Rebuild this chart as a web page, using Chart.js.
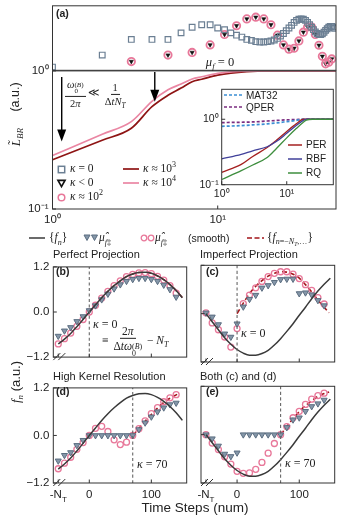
<!DOCTYPE html>
<html>
<head>
<meta charset="utf-8">
<title>Kernel projection figure</title>
<script src="https://cdn.jsdelivr.net/npm/chart.js@4.4.1/dist/chart.umd.min.js"></script>
<style>
  html, body { margin: 0; padding: 0; background: #fff; }
  #fig { position: relative; width: 343px; height: 519px; overflow: hidden; background: #fff; }
  #plots { position: absolute; left: 0; top: 0; width: 343px; height: 519px; }
  #plots canvas { position: absolute; }
  .t { position: absolute; white-space: nowrap; font-family: "Liberation Sans", Arial, sans-serif; color: #222; line-height: 1; }
  .vc { transform: translateY(-50%); }
  .cc { transform: translate(-50%, -50%); }
  .rot { transform: translate(-50%, -50%) rotate(-90deg); }
  .m { font-family: "Liberation Serif", "DejaVu Serif", serif; }
  .m i, i.m { font-style: italic; }
  .b { font-weight: bold; }
  sub, sup { font-size: 70%; line-height: 0; }
  .fr { display: inline-flex; flex-direction: column; align-items: center; vertical-align: middle; line-height: 1.05; }
  .fr > span:first-child { border-bottom: 1px solid #222; padding: 0 2px 1px; }
  .fr > span:last-child { padding: 1px 2px 0; }
  .ss { display: inline-flex; flex-direction: column; font-size: 68%; line-height: 0.95; vertical-align: 0.2em; }
  svg.sym { position: absolute; overflow: visible; }
</style>
</head>
<body>
<div id="fig">
  <div id="plots"></div>

  <!-- panel (a) texts -->
  <div class="t b vc" style="left:56px;top:13px;font-size:10.5px">(a)</div>
  <div class="t m cc" style="left:220px;top:62px;font-size:12.5px"><i>μ</i><sub><i>f</i></sub> = 0</div>
  <div class="t m vc" style="left:65px;top:94px;font-size:10.5px">
    <span class="fr"><span><i>ω</i><span class="ss"><span>(<i>B</i>)</span><span>0</span></span></span><span>2<i>π</i></span></span>
    ≪
    <span class="fr"><span>1</span><span>Δ<i>tN</i><sub><i>T</i></sub></span></span>
  </div>

  <svg class="sym" style="left:57px;top:165px" width="9" height="9"><rect x="1.3" y="1.3" width="6.4" height="6.4" fill="none" stroke="#6b7f93" stroke-width="1.5"/></svg>
  <svg class="sym" style="left:57px;top:179px" width="9" height="9"><polygon points="1,1.4 8,1.4 4.5,7.6" fill="none" stroke="#111" stroke-width="1.7"/></svg>
  <svg class="sym" style="left:57px;top:193px" width="9" height="9"><circle cx="4.5" cy="4.5" r="3.3" fill="none" stroke="#e8789a" stroke-width="1.5"/></svg>
  <div class="t m vc" style="left:70px;top:169px;font-size:11.5px"><i>κ</i> = 0</div>
  <div class="t m vc" style="left:70px;top:183px;font-size:11.5px"><i>κ</i> &lt; 0</div>
  <div class="t m vc" style="left:70px;top:197px;font-size:11.5px"><i>κ</i> ≈ 10<sup>2</sup></div>
  <svg class="sym" style="left:123px;top:166px" width="16" height="6"><line x1="0" y1="3" x2="16" y2="3" stroke="#8e1414" stroke-width="1.7"/></svg>
  <svg class="sym" style="left:123px;top:180px" width="16" height="6"><line x1="0" y1="3" x2="16" y2="3" stroke="#ea86a3" stroke-width="1.7"/></svg>
  <div class="t m vc" style="left:143px;top:169px;font-size:11.5px"><i>κ</i> ≈ 10<sup>3</sup></div>
  <div class="t m vc" style="left:143px;top:183px;font-size:11.5px"><i>κ</i> ≈ 10<sup>4</sup></div>

  <!-- inset legend -->
  <svg class="sym" style="left:224px;top:92px" width="18" height="6"><line x1="0" y1="3" x2="18" y2="3" stroke="#3b8fd4" stroke-width="1.7" stroke-dasharray="3,2"/></svg>
  <svg class="sym" style="left:224px;top:104px" width="18" height="6"><line x1="0" y1="3" x2="18" y2="3" stroke="#7b2c80" stroke-width="1.7" stroke-dasharray="3,2"/></svg>
  <div class="t vc" style="left:246px;top:95.5px;font-size:10px">MAT32</div>
  <div class="t vc" style="left:246px;top:107.5px;font-size:10px">QPER</div>
  <svg class="sym" style="left:288px;top:142px" width="14" height="6"><line x1="0" y1="3" x2="14" y2="3" stroke="#a52020" stroke-width="1.5"/></svg>
  <svg class="sym" style="left:288px;top:156px" width="14" height="6"><line x1="0" y1="3" x2="14" y2="3" stroke="#40409a" stroke-width="1.5"/></svg>
  <svg class="sym" style="left:288px;top:170px" width="14" height="6"><line x1="0" y1="3" x2="14" y2="3" stroke="#3e8e3e" stroke-width="1.5"/></svg>
  <div class="t vc" style="left:306px;top:145px;font-size:10px">PER</div>
  <div class="t vc" style="left:306px;top:159px;font-size:10px">RBF</div>
  <div class="t vc" style="left:306px;top:173px;font-size:10px">RQ</div>

  <div class="t m rot" style="left:15px;top:137px;font-size:13px"><i>L̃</i><sub><i>BR</i></sub></div>
  <div class="t rot" style="left:15px;top:97px;font-size:12.5px">(a.u.)</div>

  <!-- shared legend for (b)-(e) -->
  <svg class="sym" style="left:29px;top:235px" width="16" height="6"><line x1="0" y1="3" x2="16" y2="3" stroke="#3a3a3a" stroke-width="1.5"/></svg>
  <div class="t m vc" style="left:49px;top:238px;font-size:11.5px">{<i>f</i><sub><i>n</i></sub>}</div>
  <svg class="sym" style="left:83px;top:234px" width="16" height="8"><polygon points="1,1 7,1 4,6.5" fill="#8597a9" stroke="#5b6d80" stroke-width="1"/><polygon points="8.5,1 14.5,1 11.5,6.5" fill="#8597a9" stroke="#5b6d80" stroke-width="1"/></svg>
  <div class="t m vc" style="left:99px;top:238px;font-size:11.5px"><i>μ̂</i><sub><i>f</i>‡</sub></div>
  <svg class="sym" style="left:140px;top:234px" width="16" height="8"><circle cx="4" cy="4" r="2.8" fill="none" stroke="#e8789a" stroke-width="1.3"/><circle cx="11" cy="4" r="2.8" fill="none" stroke="#e8789a" stroke-width="1.3"/></svg>
  <div class="t m vc" style="left:155px;top:238px;font-size:11.5px"><i>μ̂</i><sub><i>f</i>‡</sub></div>
  <div class="t vc" style="left:188px;top:238px;font-size:10.5px">(smooth)</div>
  <svg class="sym" style="left:247px;top:235px" width="17" height="6"><line x1="0" y1="3" x2="17" y2="3" stroke="#a3151a" stroke-width="1.6" stroke-dasharray="5,2.5"/></svg>
  <div class="t m vc" style="left:267px;top:238px;font-size:11.5px">{<i>f</i><sub><i>n</i>=−<i>N</i><sub><i>T</i></sub>,…</sub>}</div>

  <!-- panel titles and labels -->
  <div class="t vc" style="left:53px;top:254px;font-size:11px">Perfect Projection</div>
  <div class="t vc" style="left:200px;top:254px;font-size:11px">Imperfect Projection</div>
  <div class="t vc" style="left:53px;top:376px;font-size:11px">High Kernel Resolution</div>
  <div class="t vc" style="left:200px;top:376px;font-size:11px">Both (c) and (d)</div>
  <div class="t b vc" style="left:56px;top:271px;font-size:10.5px">(b)</div>
  <div class="t b vc" style="left:206px;top:271px;font-size:10.5px">(c)</div>
  <div class="t b vc" style="left:56px;top:391px;font-size:10.5px">(d)</div>
  <div class="t b vc" style="left:206px;top:391px;font-size:10.5px">(e)</div>

  <div class="t m vc" style="left:93px;top:324px;font-size:12px"><i>κ</i> = 0</div>
  <div class="t m vc" style="left:102px;top:341px;font-size:11.5px">≡ <span class="fr"><span>2<i>π</i></span><span>Δ<i>tω</i><span class="ss"><span>(<i>B</i>)</span><span>0</span></span></span></span> − <i>N</i><sub><i>T</i></sub></div>
  <div class="t m vc" style="left:241px;top:333px;font-size:12px"><i>κ</i> = 0</div>
  <div class="t m vc" style="left:137px;top:464px;font-size:12px"><i>κ</i> = 70</div>
  <div class="t m vc" style="left:285px;top:463px;font-size:12px"><i>κ</i> = 70</div>

  <div class="t rot" style="left:15px;top:382px;font-size:13px"><span class="m"><i>f</i><sub><i>n</i></sub></span> (a.u.)</div>
  <div class="t cc" style="left:195px;top:508px;font-size:13.5px">Time Steps (num)</div>
</div>

<script>
// ---------- panel (a), upper strip (marker heights, arbitrary units: 0 = strip bottom, 100 = strip top)
const stripSqX = [1,2,3,4,5,6,7,8,9,10,11,12,13,14,15,16,17,18,19,20,21,22,23,24,25,26,27,28,29,30,
  31,32,33,34,35,36,37,38,39,40,41,42,43,44,45,46,47,48,49,50,51];
const stripSqY = [5.0,23.6,47.9,47.9,47.9,58.0,66.7,70.6,70.6,65.6,63.0,58.0,54.5,51.5,47.9,46.4,44.4,43.9,43.9,44.4,
  45.5,47.0,49.4,53.0,57.0,61.5,65.6,69.7,74.2,77.3,79.2,79.7,79.2,77.3,74.2,70.6,66.7,63.0,59.5,57.0,
  55.5,55.5,56.5,59.0,62.0,64.5,66.7,68.2,68.2,67.0,65.0];
const stripTriX = [1,3,5,7,9,11,13,15,17,19,21,23,25,27,29,31,33,35,37,39,41,43,45,47,49];
const stripTriY = [-11.2,13.6,23.6,27.7,39.4,55.5,69.1,79.7,82.3,79.7,70.6,54.5,39.4,32.7,34.2,45.5,59.1,67.1,67.1,55.5,
  38.8,21.7,10.0,12.6,17.6];

// ---------- panel (a), main log-log curves
const curveX   = [1, 2, 3, 4, 5, 6, 7, 8, 10, 12, 15, 20, 30, 52];
const kappa1e3 = [0.227,0.315,0.384,0.551,0.666,0.751,0.835,0.870,0.931,0.964,0.988,1.0,1.0,1.0];
const kappa1e4 = [0.244,0.348,0.429,0.602,0.730,0.804,0.874,0.907,0.959,0.984,0.997,1.0,1.0,1.0];

// ---------- inset
const insetX = [1, 2, 3, 5, 7, 10, 14, 18, 20, 25, 52];
const insetMAT32 = [0.78,0.80,0.82,0.85,0.88,0.92,0.96,1.0,1.0,1.0,1.0];
const insetQPER  = [0.89,0.90,0.91,0.94,0.96,0.98,0.99,1.0,1.0,1.0,1.0];
const insetPER   = [0.154,0.204,0.27,0.37,0.48,0.65,0.85,1.0,1.0,1.0,1.0];
const insetRBF   = [0.248,0.29,0.33,0.38,0.46,0.61,0.80,0.96,1.0,1.0,1.0];
const insetRQ    = [0.12,0.164,0.20,0.26,0.36,0.52,0.72,0.90,0.97,1.0,1.0];

// ---------- panels (b)-(e)
const nSteps    = [-50,-40,-30,-20,-10,0,10,20,30,40,50,60,70,80,90,100,110,120,130,140,150];
const markSteps = [-50,-40,-30,-20,-10,0,10,20,30,40,50,60,70,80,90,100,110,120,130,140];
const fnBD = [-0.85,-0.72,-0.57,-0.39,-0.20,0.00,0.19,0.38,0.55,0.70,0.83,0.94,1.01,1.05,1.06,1.03,0.96,0.86,0.73,0.57,0.38];
const fnCE = [0.00,-0.20,-0.40,-0.60,-0.76,-0.89,-0.98,-1.03,-1.03,-0.99,-0.91,-0.78,-0.62,-0.44,-0.25,-0.04,0.16,0.37,0.56,0.73,0.88];

const redBX = [0,10,20,30,40,50,60,70,80,90,100,110,120,130,140,150];
const redBY = [0.00,0.19,0.38,0.55,0.70,0.83,0.94,1.01,1.05,1.06,1.03,0.96,0.86,0.73,0.57,0.38];
const redCX = [0,10,20,30,40,50,60,70,80,90,100,110,120,130,140,148];
const redCY = [0.00,0.26,0.50,0.68,0.82,0.93,1.00,1.04,1.03,0.98,0.88,0.72,0.54,0.34,0.16,0.02];
const redDX = [70,80,90,100,110,120,130,142];
const redDY = [0.00,0.18,0.36,0.53,0.69,0.83,0.94,1.04];
const redEX = [70,80,90,100,110,120,130,140,148];
const redEY = [0.00,0.20,0.40,0.57,0.72,0.84,0.95,1.02,1.06];

const circB = [-0.85,-0.71,-0.56,-0.38,-0.20,0.00,0.18,0.37,0.55,0.70,0.83,0.94,1.00,1.04,1.05,1.02,0.95,0.85,0.70,0.50];
const circC = [0.02,-0.23,-0.40,-0.58,-0.83,-0.37,0.25,0.46,0.64,0.80,0.92,1.00,1.04,1.04,0.98,0.87,0.72,0.58,0.40,0.24];
const circD = [-0.84,-0.70,-0.55,-0.35,-0.18,0.00,0.18,0.23,0.10,-0.11,-0.23,-0.17,0.00,0.17,0.37,0.55,0.70,0.85,0.95,1.03];
const circE = [0.00,-0.21,-0.37,-0.55,-0.73,-0.91,-0.96,-0.95,-0.86,-0.69,-0.46,-0.22,0.00,0.20,0.42,0.58,0.75,0.88,0.97,1.03];

const triB = [-0.64,-0.50,-0.41,-0.25,-0.12,0.04,0.17,0.33,0.48,0.62,0.73,0.82,0.87,0.90,0.90,0.87,0.82,0.72,0.60,0.40];
const triC = [0.02,-0.08,-0.27,-0.50,-0.58,-0.25,0.17,0.36,0.46,0.64,0.70,0.78,0.85,0.86,0.86,0.50,0.52,0.47,0.33,0.20];
const triD = [-0.64,-0.50,-0.43,-0.25,-0.12,0.00,0.00,0.00,0.00,0.00,0.00,0.00,0.00,0.15,0.32,0.47,0.60,0.70,0.78,0.82];
const triE = [0.00,-0.10,-0.28,-0.48,-0.54,-0.45,0.00,0.00,0.00,0.00,0.00,0.00,0.00,0.18,0.37,0.42,0.58,0.70,0.77,0.86];

const kappaB = 0, kappaC = 0, kappaD = 70, kappaE = 70;

// tick labels
const logTicksX = [1, 10], logLabelsX = ['10⁰', '10¹'];
const logTicksY = [0.1, 1], logLabelsY = ['10⁻¹', '10⁰'];
const fTicks = [-1.2, 0, 1.2], fLabels = ['−1.2', '0.0', '1.2'];
const nTicks = [-50, 0, 100], nLabels = ['', '0', '100'];

// colours
const SQ = '#6b7f93', PINK = '#e8789a', TRI_FILL = '#8597a9', TRI_EDGE = '#5b6d80';
const BLACK_LINE = '#3a3a3a', RED_DASH = '#a3151a';
const FONT = '"Liberation Sans", Arial, sans-serif';

const pts = (xs, ys) => xs.map((x, i) => ({x, y: ys[i]}));

const framePlugin = {
  id: 'frame',
  beforeDraw(chart, args, o) {
    if (!o.fill) return;
    const {ctx, chartArea: a} = chart;
    ctx.save();
    ctx.fillStyle = o.fill;
    ctx.fillRect(a.left, a.top, a.right - a.left, a.bottom - a.top);
    ctx.restore();
  },
  afterDraw(chart, args, o) {
    const {ctx, chartArea: a, scales} = chart;
    ctx.save();
    ctx.strokeStyle = '#333';
    ctx.lineWidth = 1;
    ctx.strokeRect(a.left, a.top, a.right - a.left, a.bottom - a.top);
    ctx.beginPath();
    (o.xTicks || []).forEach(v => {
      const px = scales.x.getPixelForValue(v);
      ctx.moveTo(px, a.bottom); ctx.lineTo(px, a.bottom - 3.5);
    });
    (o.yTicks || []).forEach(v => {
      const py = scales.y.getPixelForValue(v);
      ctx.moveTo(a.left, py); ctx.lineTo(a.left + 3.5, py);
    });
    ctx.stroke();
    if (o.breakMark) {
      ctx.beginPath();
      [0, 5].forEach(k => {
        ctx.moveTo(a.left + k, a.bottom + 3);
        ctx.lineTo(a.left + k + 7, a.bottom - 4);
      });
      ctx.stroke();
    }
    if (o.ntLabel) {
      const px = scales.x.getPixelForValue(-50);
      ctx.fillStyle = '#222';
      ctx.textBaseline = 'top';
      ctx.font = '11.5px ' + FONT;
      const w1 = ctx.measureText('-N').width;
      ctx.font = '8px ' + FONT;
      const w2 = ctx.measureText('T').width;
      const x0 = px - (w1 + w2) / 2;
      ctx.font = '11.5px ' + FONT;
      ctx.fillText('-N', x0, a.bottom + 6);
      ctx.font = '8px ' + FONT;
      ctx.fillText('T', x0 + w1, a.bottom + 13);
    }
    (o.arrows || []).forEach(ar => {
      const px = scales.x.getPixelForValue(ar.x);
      const y0 = scales.y.getPixelForValue(ar.from);
      const y1 = scales.y.getPixelForValue(ar.to);
      ctx.strokeStyle = '#000';
      ctx.lineWidth = 1.4;
      ctx.beginPath(); ctx.moveTo(px, y0); ctx.lineTo(px, y1 - 9); ctx.stroke();
      ctx.fillStyle = '#000';
      ctx.beginPath();
      ctx.moveTo(px - 4.5, y1 - 12); ctx.lineTo(px + 4.5, y1 - 12); ctx.lineTo(px, y1);
      ctx.closePath(); ctx.fill();
    });
    ctx.restore();
  }
};

const plots = document.getElementById('plots');

// canvas placed so that the plot area lands on L,T,R,B of the page
function mount(L, T, R, B, cl, ct, cw, ch) {
  const c = document.createElement('canvas');
  c.width = cw; c.height = ch;
  c.style.left = cl + 'px'; c.style.top = ct + 'px';
  c.style.width = cw + 'px'; c.style.height = ch + 'px';
  plots.appendChild(c);
  return {ctx: c.getContext('2d'), l: L - cl, t: T - ct, r: cl + cw - R, b: ct + ch - B};
}

function axis(type, min, max, ticks, labels, size, horizontal, show, fontSize, pad) {
  return {
    type, min, max, bounds: 'data',
    grid: {display: false, drawTicks: false},
    border: {display: false},
    ticks: {
      display: show, autoSkip: false, maxRotation: 0, minRotation: 0,
      font: {family: FONT, size: fontSize}, color: '#222', padding: pad,
      callback: v => { const i = ticks.indexOf(v); return i < 0 ? '' : labels[i]; }
    },
    afterBuildTicks: s => { s.ticks = ticks.map(v => ({value: v})); },
    afterFit: s => { if (horizontal) s.height = size; else s.width = size; }
  };
}

function makeChart(m, datasets, x, y, frame) {
  return new Chart(m.ctx, {
    type: 'scatter',
    data: {datasets},
    options: {
      responsive: false, animation: false, events: [],
      layout: {padding: {left: 0, top: m.t, right: m.r, bottom: 0}},
      scales: {x, y},
      plugins: {legend: {display: false}, tooltip: {enabled: false}, frame}
    },
    plugins: [framePlugin]
  });
}

function lineDs(xs, ys, color, width, dash) {
  return {data: pts(xs, ys), showLine: true, borderColor: color, borderWidth: width,
    borderDash: dash || [], pointRadius: 0, fill: false, cubicInterpolationMode: 'monotone'};
}
function markDs(xs, ys, style, r, fill, edge, bw, extra) {
  return Object.assign({data: pts(xs, ys), showLine: false, pointStyle: style, pointRadius: r,
    pointBackgroundColor: fill, pointBorderColor: edge, pointBorderWidth: bw}, extra || {});
}

// ---- (a) upper strip
{
  const m = mount(52.5, 4.3, 336, 70.3, 0, 0, 343, 78);
  makeChart(m, [
    markDs(stripSqX, stripSqY, 'rect', 4.0, 'rgba(0,0,0,0)', SQ, 1.2),
    markDs(stripTriX, stripTriY, 'circle', 3.7, 'rgba(0,0,0,0)', PINK, 1.8, {clip: false}),
    markDs(stripTriX, stripTriY, 'triangle', 2.4, '#111', '#111', 0.6, {pointRotation: 180, clip: false})
  ],
  axis('logarithmic', 1, 52, logTicksX, logLabelsX, m.b, true, false, 11.5, 4),
  axis('linear', 0, 100, [], [], m.l, false, false, 11.5, 4),
  {});
}

// ---- (a) main log-log panel
{
  const m = mount(52.5, 70.3, 336, 209, 0, 60, 343, 175);
  makeChart(m, [
    lineDs(curveX, kappa1e4, '#ea86a3', 1.7),
    lineDs(curveX, kappa1e3, '#8e1414', 1.7)
  ],
  axis('logarithmic', 1, 52, logTicksX, logLabelsX, m.b, true, true, 11.5, 4),
  axis('logarithmic', 0.1, 1, logTicksY, logLabelsY, m.l, false, true, 11.5, 4),
  {xTicks: logTicksX, yTicks: logTicksY,
   arrows: [{x: 1.137, from: 0.905, to: 0.308}, {x: 4.16, from: 0.98, to: 0.598}]});
}

// ---- inset
{
  const m = mount(221.7, 86, 333.3, 184.7, 195, 80, 145, 128);
  makeChart(m, [
    lineDs(insetX, insetRQ, '#3e8e3e', 1.3),
    lineDs(insetX, insetRBF, '#40409a', 1.3),
    lineDs(insetX, insetPER, '#a52020', 1.3),
    lineDs(insetX, insetMAT32, '#3b8fd4', 1.7, [3, 2]),
    lineDs(insetX, insetQPER, '#7b2c80', 1.7, [3, 2])
  ],
  axis('logarithmic', 1, 52, logTicksX, logLabelsX, m.b, true, true, 10.5, 3),
  axis('logarithmic', 0.1, 2.87, logTicksY, logLabelsY, m.l, false, true, 10.5, 3),
  {fill: '#fff', xTicks: logTicksX, yTicks: logTicksY});
}

// ---- (b)-(e)
function fPanel(m, fn, rx, ry, tri, circ, kappa, bottomRow, leftCol) {
  makeChart(m, [
    lineDs([kappa, kappa], [-1.2, 1.2], '#666', 1.1, [3, 2.5]),
    lineDs(nSteps, fn, BLACK_LINE, 1.5),
    markDs(markSteps, tri, 'triangle', 3.5, TRI_FILL, TRI_EDGE, 1, {pointRotation: 180}),
    markDs(markSteps, circ, 'circle', 3, 'rgba(0,0,0,0)', PINK, 1.3),
    lineDs(rx, ry, RED_DASH, 1.6, [5, 3])
  ],
  axis('linear', -58, 157, nTicks, nLabels, m.b, true, bottomRow, 11.5, 5),
  axis('linear', -1.2, 1.2, fTicks, fLabels, m.l, false, leftCol, 11.5, 4),
  {xTicks: nTicks, yTicks: fTicks, breakMark: true, ntLabel: bottomRow});
}
fPanel(mount(53.3, 265.3, 187.7, 362, 0, 256, 192, 112), fnBD, redBX, redBY, triB, circB, kappaB, false, true);
fPanel(mount(201, 265.3, 335, 362, 190, 256, 150, 112), fnCE, redCX, redCY, triC, circC, kappaC, false, false);
fPanel(mount(53.3, 386.3, 187.7, 483, 0, 377, 192, 128), fnBD, redDX, redDY, triD, circD, kappaD, true, true);
fPanel(mount(201, 386.3, 335, 483, 190, 377, 150, 128), fnCE, redEX, redEY, triE, circE, kappaE, true, false);
</script>
</body>
</html>
